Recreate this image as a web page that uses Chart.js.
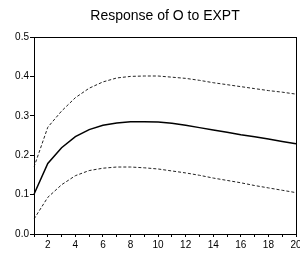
<!DOCTYPE html>
<html>
<head>
    <title>Response of O to EXPT</title>
    <script src="https://cdn.jsdelivr.net/npm/chart.js"></script>
    <style>
        body { margin: 0; background: #fff; }
    </style>
</head>
<body>
    <canvas id="myChart" width="300" height="254"></canvas>
    <script>
        const titleText = 'Response of O to EXPT';
        const steps = [1, 2, 3, 4, 5, 6, 7, 8, 9, 10, 11, 12, 13, 14, 15, 16, 17, 18, 19, 20];
        const response = [0.101, 0.179, 0.219, 0.247, 0.265, 0.276, 0.282, 0.285, 0.285, 0.284,
                          0.281, 0.276, 0.270, 0.264, 0.258, 0.252, 0.247, 0.241, 0.235, 0.229];
        const upperBand = [0.170, 0.271, 0.312, 0.346, 0.370, 0.386, 0.396, 0.400, 0.401, 0.401,
                           0.398, 0.395, 0.390, 0.384, 0.379, 0.374, 0.369, 0.364, 0.360, 0.355];
        const lowerBand = [0.038, 0.093, 0.125, 0.148, 0.161, 0.167, 0.170, 0.170, 0.168, 0.165,
                           0.160, 0.155, 0.149, 0.142, 0.136, 0.130, 0.123, 0.117, 0.111, 0.105];

        const font = 'Arial, "Liberation Sans", sans-serif';

        // frame round the plot area + title centred over it
        const framePlugin = {
            id: 'frame',
            afterDraw(chart) {
                const a = chart.chartArea;
                const c = chart.ctx;
                c.save();
                c.strokeStyle = '#000';
                c.lineWidth = 1;
                c.strokeRect(Math.round(a.left) + 0.5, Math.round(a.top) + 0.5,
                             Math.round(a.right - a.left), Math.round(a.bottom - a.top));
                c.fillStyle = '#000';
                c.font = '14px ' + font;
                c.textAlign = 'center';
                c.textBaseline = 'middle';
                c.fillText(titleText, (a.left + a.right) / 2, 16);
                c.restore();
            }
        };

        const ctx = document.getElementById('myChart').getContext('2d');
        const myChart = new Chart(ctx, {
            type: 'line',
            data: {
                labels: steps,
                datasets: [
                    { data: response, borderColor: '#000', borderWidth: 1.5 },
                    { data: upperBand, borderColor: '#222', borderWidth: 1, borderDash: [3, 2] },
                    { data: lowerBand, borderColor: '#222', borderWidth: 1, borderDash: [3, 2] }
                ]
            },
            options: {
                responsive: false,
                animation: false,
                layout: { padding: { top: 37, right: 4, left: 0, bottom: 0 } },
                elements: { point: { radius: 0 }, line: { tension: 0 } },
                plugins: { legend: { display: false }, title: { display: false }, tooltip: { enabled: false } },
                scales: {
                    x: {
                        offset: false,
                        grid: { drawOnChartArea: false, drawTicks: true, tickLength: 3, color: '#000' },
                        border: { color: '#000' },
                        ticks: {
                            autoSkip: false, maxRotation: 0, padding: 2, color: '#000',
                            font: { size: 10, family: font },
                            callback: function(v, i) { return steps[i] % 2 === 0 ? String(steps[i]) : ''; }
                        },
                        afterFit(scale) { scale.height = 20; scale.paddingLeft = 0; scale.paddingRight = 0; }
                    },
                    y: {
                        min: 0, max: 0.5,
                        grid: { drawOnChartArea: false, drawTicks: true, tickLength: 4, color: '#000' },
                        border: { color: '#000' },
                        ticks: {
                            stepSize: 0.1, padding: 1, color: '#000',
                            font: { size: 10, family: font },
                            callback: v => v.toFixed(1)
                        },
                        afterFit(scale) { scale.width = 34; scale.paddingTop = 0; scale.paddingBottom = 0; }
                    }
                }
            },
            plugins: [framePlugin]
        });
    </script>
</body>
</html>
